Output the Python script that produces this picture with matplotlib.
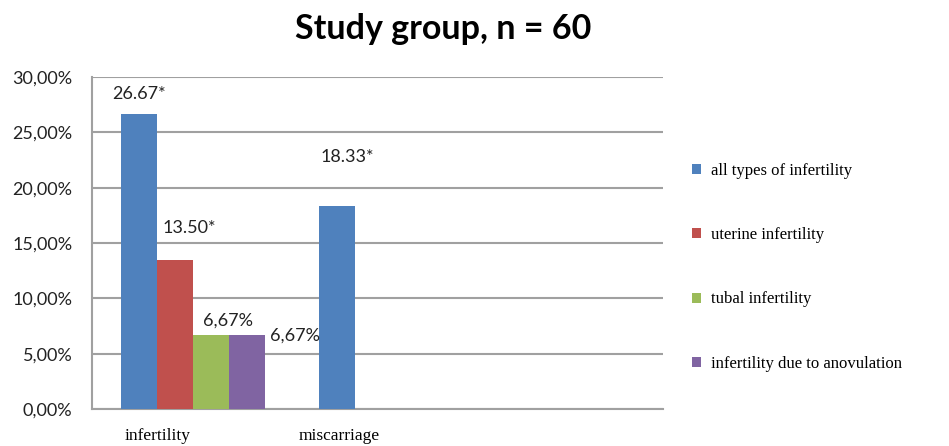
import matplotlib
matplotlib.use("Agg")
import matplotlib.pyplot as plt
import numpy as np
from matplotlib.ticker import FuncFormatter

# chart data
categories = ["infertility", "miscarriage"]
series_names = ["all types of infertility", "uterine infertility",
                "tubal infertility", "infertility due to anovulation"]
all_types = [26.67, 18.33]
uterine = [13.50, 0.0]
tubal = [6.67, 0.0]
anovulation = [6.67, 0.0]
value_labels = [["26.67*", "18.33*"], ["13.50*", None], ["6,67%", None], ["6,67%", None]]
yticks = [0, 5, 10, 15, 20, 25, 30]

colors = ["#4F81BD", "#C0504D", "#9BBB59", "#8064A2"]
# label offsets in pixels (dx, dy) from each bar's top centre
label_offsets = [[(0, 20), (10, 49)], [(14, 32), None], [(17, 15), None], [(48, 0), None]]

fig = plt.figure(figsize=(9.49, 4.46), dpi=100)
ax = fig.add_axes([0.097, 0.083, 0.602, 0.744])

values = [all_types, uterine, tubal, anovulation]
x = np.arange(len(categories))
w = 0.182
for i, (vals, name, col) in enumerate(zip(values, series_names, colors)):
    pos = x + (i - 1.5) * w
    bars = ax.bar(pos, vals, w, color=col, label=name, zorder=3)
    for j, b in enumerate(bars):
        lab = value_labels[i][j]
        if lab is None:
            continue
        dx, dy = label_offsets[i][j]
        ax.annotate(lab, (b.get_x() + b.get_width() / 2, b.get_height()),
                    xytext=(dx, dy), textcoords="offset pixels",
                    ha="center", va="center", fontsize=13,
                    family="Lato", color="#222222")

ax.set_ylim(0, 30)
ax.set_xlim(-0.51, 2.374)
ax.set_yticks(yticks)
ax.yaxis.set_major_formatter(FuncFormatter(lambda v, p: f"{v:.2f}%".replace(".", ",")))
ax.grid(axis="y", color="#a0a0a0", linewidth=1.5, zorder=0)
ax.tick_params(axis="y", length=0, pad=14, labelsize=13)
for t in ax.get_yticklabels():
    t.set_family("Lato")
    t.set_color("#222222")

ax.set_xticks(x + np.array([-0.18, -0.26]))
ax.set_xticklabels(categories, family="Liberation Serif", fontsize=12.5)
ax.tick_params(axis="x", length=0, pad=14)

for s in ["top", "right"]:
    ax.spines[s].set_visible(False)
for s in ["left", "bottom"]:
    ax.spines[s].set_color("#a0a0a0")
    ax.spines[s].set_linewidth(1.5)

fig.text(0.467, 0.935, "Study group, n = 60", ha="center", va="center",
         fontsize=24.5, fontweight="bold", family="Lato")

leg = ax.legend(loc="upper left", bbox_to_anchor=(0.722, 0.65),
                bbox_transform=fig.transFigure, frameon=False,
                prop={"family": "Liberation Serif", "size": 12},
                handlelength=0.55, handleheight=0.55, handletextpad=0.6,
                labelspacing=2.9, borderaxespad=0)

fig.savefig("out.png", dpi=100)
